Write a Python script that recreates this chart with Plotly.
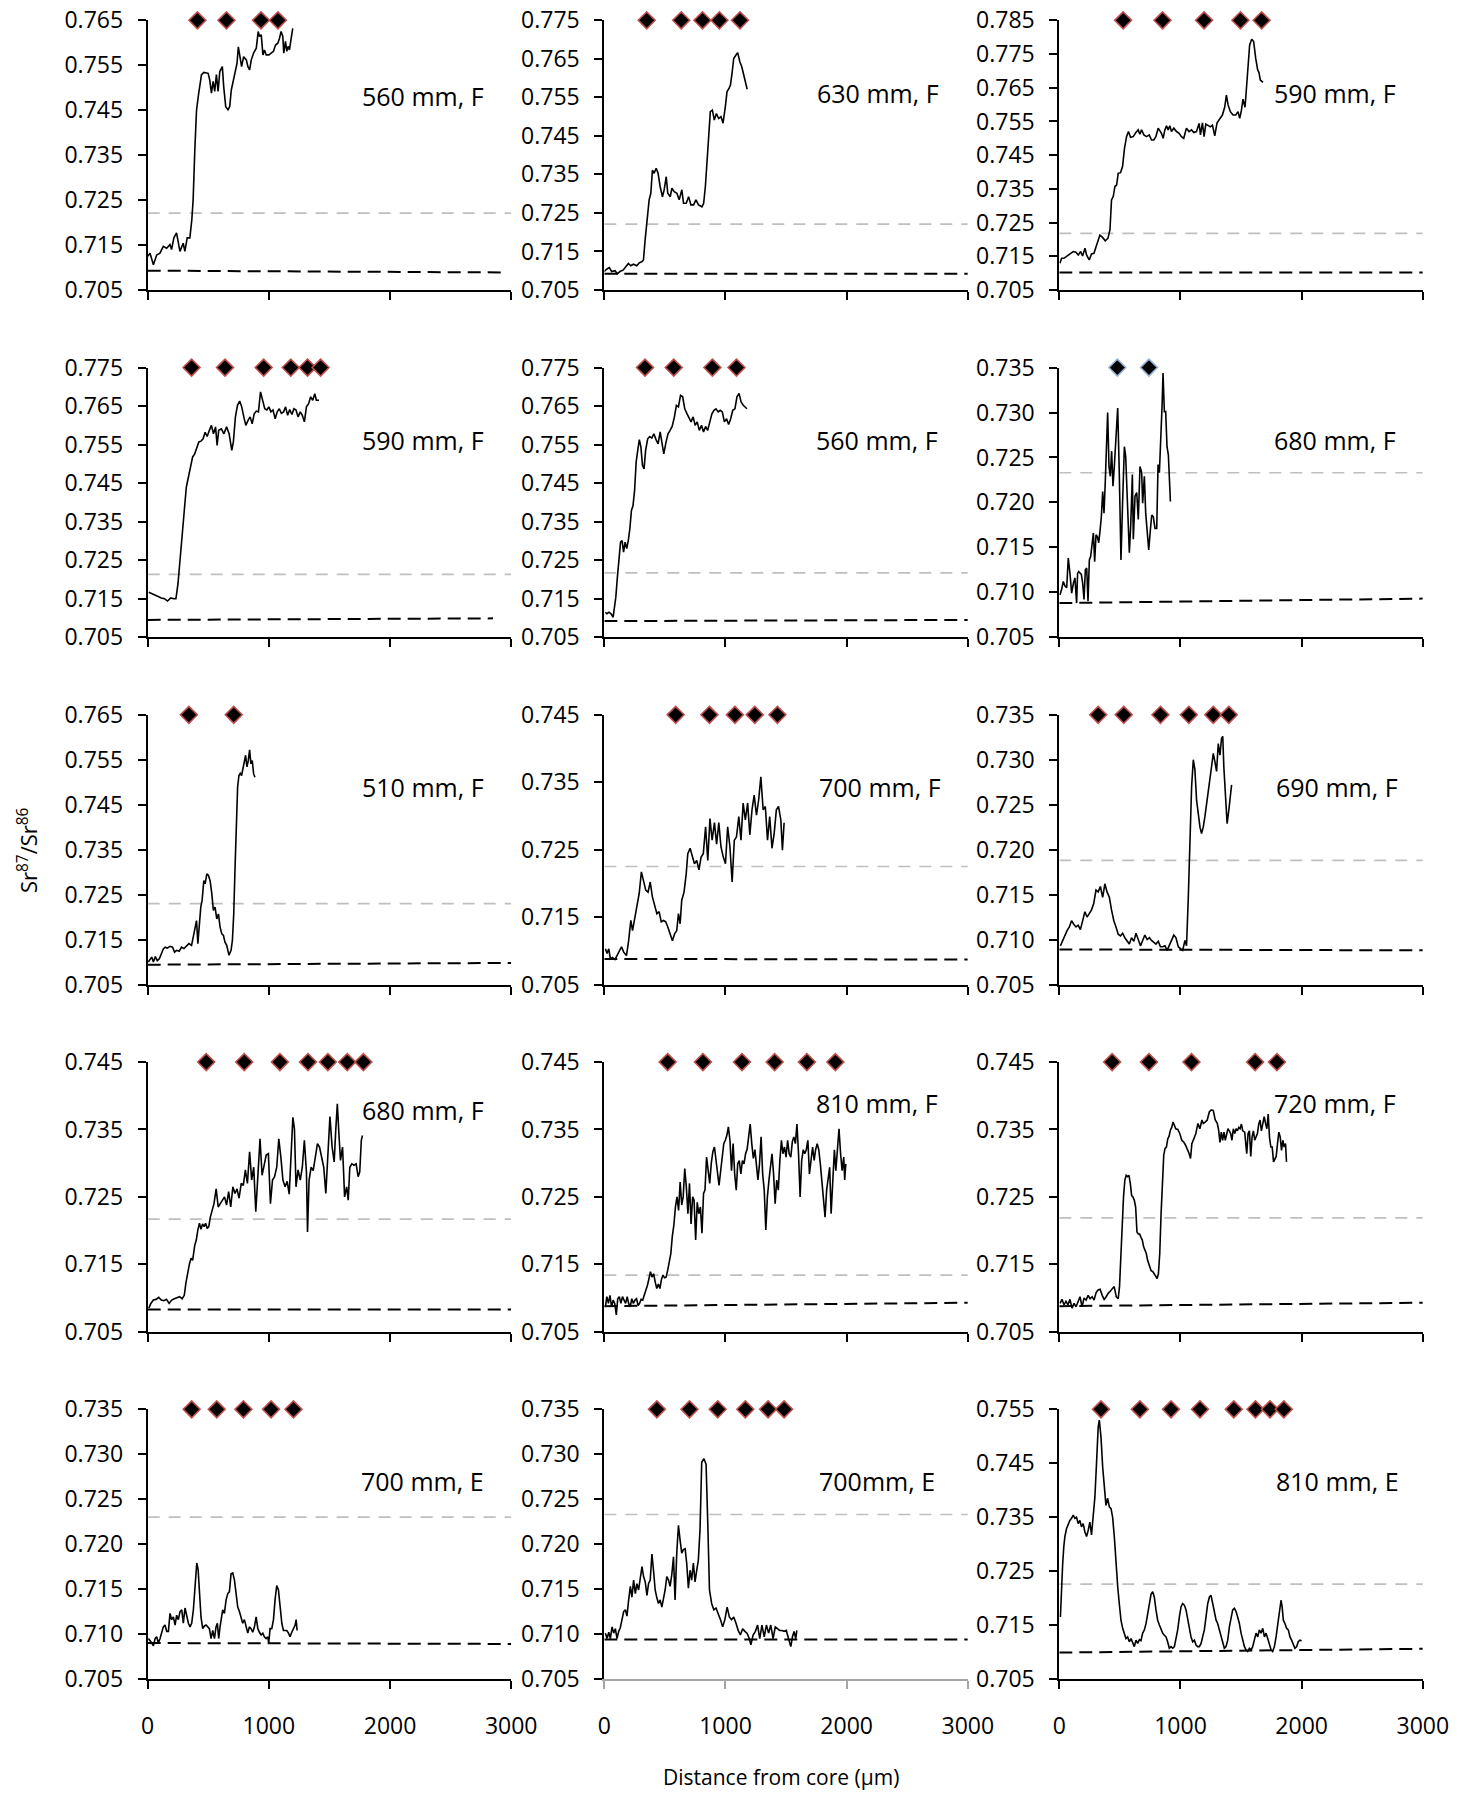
import plotly.graph_objects as go

# ---------------------------------------------------------------------------
# Sr87/Sr86 transects, distance from core (µm) vs ratio, one list per otolith
# ---------------------------------------------------------------------------

panel_labels = ["560 mm, F", "630 mm, F", "590 mm, F",
                "590 mm, F", "560 mm, F", "680 mm, F",
                "510 mm, F", "700 mm, F", "690 mm, F",
                "680 mm, F", "810 mm, F", "720 mm, F",
                "700 mm, E", "700mm, E", "810 mm, E"]

# (min, max, step) of each ratio axis
y_scales = [(0.705, 0.765, 0.01), (0.705, 0.775, 0.01), (0.705, 0.785, 0.01),
            (0.705, 0.775, 0.01), (0.705, 0.775, 0.01), (0.705, 0.735, 0.005),
            (0.705, 0.765, 0.01), (0.705, 0.745, 0.01), (0.705, 0.735, 0.005),
            (0.705, 0.745, 0.01), (0.705, 0.745, 0.01), (0.705, 0.745, 0.01),
            (0.705, 0.735, 0.005), (0.705, 0.735, 0.005), (0.705, 0.755, 0.01)]

x_ticks = [0, 1000, 2000, 3000]

transect_560F_a = [(0, .7125), (19, .7132), (47, .7106), (74, .7128), (101, .7132), (129, .7147), (156, .7143), (184, .7151), (197, .714), (216, .7166), (238, .7177), (266, .7136), (293, .7154), (307, .7136), (326, .7166), (348, .7166), (364, .7206), (375, .7251), (389, .7362), (403, .745), (419, .7484), (444, .7529), (463, .7534), (499, .7532), (512, .7517), (526, .7488), (540, .7514), (553, .7492), (567, .7529), (581, .7492), (595, .7536), (616, .7547), (627, .7503), (644, .7458), (663, .7451), (677, .7458), (690, .7495), (704, .7514), (721, .7529), (737, .7554), (748, .7591), (759, .7573), (775, .7547), (792, .7569), (814, .7562), (827, .7547), (841, .754), (855, .7562), (874, .7577), (896, .7588), (912, .7625), (923, .7614), (937, .7618), (951, .7573), (964, .7584), (978, .7573), (1000, .7573), (1019, .7577), (1038, .7581), (1055, .7595), (1074, .7599), (1088, .761), (1101, .7625), (1115, .7614), (1123, .7577), (1137, .7603), (1148, .7581), (1159, .7592), (1170, .7584), (1184, .761), (1197, .7632)]

transect_630F = [(0, .7098), (19, .7104), (41, .7108), (61, .7098), (88, .71), (108, .7092), (130, .7098), (157, .7102), (179, .7111), (199, .7119), (218, .7113), (240, .7117), (268, .7113), (290, .7121), (309, .7123), (323, .7128), (337, .718), (351, .7232), (370, .7284), (384, .7301), (397, .7361), (411, .7353), (428, .7366), (444, .7353), (461, .7318), (480, .7292), (494, .731), (511, .7344), (524, .7301), (544, .7292), (558, .7314), (577, .7305), (599, .7301), (618, .7284), (640, .731), (654, .7275), (676, .7275), (696, .7292), (715, .7271), (737, .7271), (756, .7284), (778, .7271), (806, .7266), (820, .7275), (834, .7318), (847, .7379), (861, .7457), (875, .7513), (892, .7517), (908, .7491), (925, .7508), (944, .7495), (963, .75), (980, .7483), (999, .7526), (1013, .7565), (1029, .7573), (1041, .7582), (1054, .7612), (1068, .7651), (1087, .766), (1101, .7666), (1118, .7643), (1134, .763), (1151, .7608), (1165, .7586), (1179, .7571)]

transect_590F_a = [(5, .7129), (19, .7144), (38, .7144), (60, .7149), (88, .7157), (115, .7164), (137, .7162), (157, .7154), (176, .7164), (192, .7151), (212, .7174), (225, .7154), (247, .7139), (266, .7157), (286, .7159), (302, .7177), (321, .7201), (335, .7213), (357, .7206), (379, .7196), (401, .7203), (418, .7228), (431, .7317), (445, .7327), (459, .7357), (473, .7361), (486, .7396), (505, .7398), (522, .7416), (538, .747), (555, .7505), (571, .752), (588, .7503), (610, .7505), (632, .7517), (651, .7525), (665, .7512), (679, .7525), (698, .751), (720, .7505), (742, .751), (761, .7495), (780, .7495), (797, .7505), (816, .753), (830, .7523), (843, .7515), (857, .75), (871, .7525), (885, .7537), (898, .7525), (912, .7537), (926, .752), (945, .753), (967, .752), (989, .7515), (1008, .7505), (1027, .75), (1049, .753), (1071, .752), (1091, .7525), (1110, .7517), (1132, .752), (1154, .7544), (1165, .751), (1181, .7546), (1195, .7505), (1209, .7542), (1228, .7539), (1247, .7534), (1264, .7539), (1283, .7507), (1302, .7546), (1324, .7559), (1346, .7569), (1365, .7592), (1379, .7628), (1393, .7599), (1412, .7579), (1434, .7569), (1456, .7569), (1475, .7579), (1489, .7559), (1503, .7583), (1516, .7616), (1533, .7592), (1549, .7663), (1560, .7727), (1571, .7777), (1588, .7794), (1604, .7787), (1621, .7737), (1637, .7703), (1648, .7695), (1659, .7673), (1681, .7666)]

transect_590F_b = [(9, .7167), (34, .7163), (60, .7158), (86, .7156), (112, .7152), (138, .715), (164, .7144), (190, .7152), (216, .715), (233, .715), (250, .7189), (267, .7258), (284, .7327), (302, .7379), (319, .744), (336, .7466), (353, .7487), (371, .7518), (388, .7526), (405, .7539), (422, .7557), (440, .7559), (457, .7565), (474, .7582), (491, .7571), (509, .7587), (526, .76), (543, .7578), (560, .7596), (573, .7548), (586, .7587), (608, .7591), (629, .7578), (651, .7596), (672, .7578), (694, .7535), (707, .7557), (724, .7622), (741, .7652), (759, .7663), (776, .7648), (793, .7622), (810, .76), (828, .7613), (845, .7622), (862, .7604), (879, .763), (897, .7637), (914, .7635), (931, .7687), (948, .7665), (966, .7643), (983, .764), (1000, .7648), (1017, .7635), (1034, .764), (1052, .7617), (1069, .7635), (1086, .7643), (1103, .7631), (1121, .7635), (1138, .7648), (1155, .7626), (1172, .7641), (1190, .7628), (1207, .7643), (1224, .764), (1241, .7622), (1259, .7635), (1276, .7626), (1293, .7609), (1310, .7648), (1328, .7656), (1345, .7674), (1362, .7665), (1379, .7682), (1392, .7665), (1414, .7665)]

transect_560F_b = [(9, .7115), (22, .7111), (39, .7115), (56, .7111), (73, .7102), (82, .7124), (95, .7154), (108, .7206), (121, .7258), (134, .7297), (147, .7301), (159, .7271), (172, .7297), (185, .728), (198, .7301), (211, .7332), (224, .7379), (237, .7392), (250, .7431), (263, .7505), (276, .7535), (289, .7563), (302, .7544), (315, .7496), (328, .7487), (341, .7535), (358, .7565), (375, .7571), (392, .7567), (409, .7578), (427, .7563), (444, .7552), (461, .7583), (478, .7552), (491, .7526), (509, .7556), (526, .7578), (543, .7587), (560, .7597), (578, .7621), (595, .7652), (612, .7648), (629, .7678), (647, .7674), (664, .7643), (681, .7631), (698, .7622), (716, .7609), (733, .7622), (750, .76), (767, .7609), (784, .7587), (802, .76), (819, .7583), (836, .7597), (853, .7587), (871, .7609), (888, .763), (905, .7639), (922, .7643), (940, .7635), (957, .7639), (974, .7635), (991, .7609), (1009, .7617), (1026, .7602), (1043, .7617), (1060, .7639), (1078, .7643), (1095, .7674), (1112, .7683), (1129, .7661), (1147, .7652), (1164, .7648), (1177, .7643)]

transect_680F_a = [(5, .7097), (19, .7103), (33, .7112), (47, .7107), (61, .7105), (74, .7138), (88, .7121), (102, .7099), (116, .711), (129, .7116), (143, .7088), (151, .7121), (160, .7123), (171, .7121), (182, .712), (193, .711), (204, .7092), (215, .7125), (226, .7127), (237, .709), (248, .7136), (259, .714), (270, .7153), (281, .7166), (292, .7134), (303, .7164), (314, .7162), (325, .7155), (336, .7168), (347, .7184), (358, .7212), (369, .7188), (380, .7225), (391, .727), (399, .73), (410, .724), (421, .7229), (432, .7257), (443, .7218), (454, .724), (465, .727), (482, .7305), (495, .7233), (509, .7136), (523, .7203), (537, .7262), (548, .7251), (562, .7196), (578, .7144), (589, .7173), (603, .7231), (611, .7159), (625, .7207), (639, .7211), (652, .7181), (666, .724), (680, .7233), (688, .7199), (702, .7229), (713, .7188), (727, .7166), (738, .7147), (752, .717), (763, .7186), (776, .7184), (790, .7171), (804, .7171), (815, .7242), (826, .7233), (837, .7262), (848, .7307), (856, .7344), (867, .7301), (878, .7301), (889, .7262), (900, .7253), (911, .7218), (917, .7201)]

transect_510F = [(5, .71), (19, .7107), (33, .7111), (47, .71), (63, .7112), (79, .7103), (96, .7107), (112, .7118), (129, .7129), (145, .7133), (162, .7131), (184, .7135), (205, .7133), (222, .7122), (238, .7126), (260, .7124), (279, .7133), (299, .713), (321, .7135), (340, .7141), (362, .7137), (375, .7155), (389, .7181), (403, .7192), (414, .7141), (425, .7181), (438, .7222), (449, .7237), (463, .7281), (474, .7274), (488, .7296), (501, .7293), (515, .7281), (529, .7252), (542, .7215), (556, .7222), (570, .7196), (584, .7207), (597, .7178), (611, .7163), (625, .7159), (638, .7144), (652, .7137), (671, .7115), (688, .7126), (699, .7148), (710, .7207), (721, .7311), (732, .7415), (742, .7489), (753, .7515), (764, .752), (775, .7515), (786, .753), (797, .7537), (808, .756), (819, .7534), (830, .7548), (841, .7572), (852, .7541), (863, .7548), (874, .7519), (885, .7511)]

transect_700F = [(9, .7103), (23, .7096), (37, .7103), (50, .7088), (68, .709), (87, .7087), (105, .7093), (123, .7099), (142, .7106), (160, .7098), (183, .7093), (201, .7115), (219, .7145), (233, .713), (251, .715), (269, .7167), (288, .7185), (306, .7217), (324, .7205), (342, .719), (361, .7187), (379, .7202), (397, .718), (416, .7167), (434, .7155), (452, .7158), (470, .7143), (489, .7145), (507, .7143), (525, .7135), (543, .7125), (562, .7115), (580, .7125), (598, .713), (612, .7155), (626, .714), (639, .7175), (658, .7187), (676, .7214), (689, .7244), (708, .7252), (726, .7239), (744, .7229), (763, .7234), (781, .722), (799, .7239), (817, .7244), (836, .7284), (854, .7234), (872, .7296), (890, .7264), (909, .729), (927, .7258), (945, .729), (963, .7254), (982, .7239), (1000, .7229), (1018, .7284), (1037, .7254), (1055, .7202), (1073, .7264), (1091, .7269), (1110, .7299), (1128, .7264), (1146, .7319), (1164, .7294), (1183, .7319), (1201, .7272), (1219, .7309), (1237, .7331), (1256, .7301), (1274, .7324), (1292, .7358), (1311, .7309), (1329, .7314), (1347, .7264), (1365, .7299), (1384, .7252), (1402, .7274), (1420, .7309), (1438, .7314), (1457, .7294), (1470, .7249), (1484, .729)]

transect_690F = [(9, .7093), (28, .7099), (46, .7106), (64, .711), (83, .7114), (101, .7121), (119, .7117), (138, .7114), (156, .7116), (174, .7111), (193, .7121), (211, .7131), (229, .7125), (248, .7129), (266, .7133), (284, .714), (303, .7155), (321, .7153), (339, .7159), (358, .7147), (376, .7162), (394, .7153), (413, .7147), (431, .7133), (450, .7121), (468, .7114), (486, .7106), (505, .7104), (523, .7107), (541, .7102), (560, .7099), (578, .7095), (596, .7102), (615, .7098), (633, .7107), (651, .7099), (670, .7093), (688, .7099), (706, .7105), (725, .71), (743, .7102), (761, .7099), (780, .7097), (798, .7095), (817, .7098), (835, .7092), (853, .7092), (872, .7093), (890, .7088), (908, .7093), (927, .7099), (945, .7105), (963, .7102), (982, .7092), (1000, .709), (1018, .7088), (1037, .7099), (1050, .7093), (1064, .7144), (1078, .7211), (1092, .727), (1106, .73), (1119, .7289), (1133, .7255), (1147, .724), (1161, .7225), (1174, .7218), (1188, .7225), (1202, .7237), (1216, .7251), (1229, .7259), (1243, .7276), (1257, .7291), (1271, .7307), (1284, .7298), (1298, .7287), (1312, .7318), (1326, .7305), (1339, .7324), (1349, .7326), (1358, .7292), (1372, .7255), (1385, .7229), (1399, .7244), (1413, .7263), (1422, .7272)]

transect_680F_b = [(9, .7085), (26, .7092), (47, .7097), (69, .7098), (91, .7101), (112, .7097), (134, .7096), (155, .7098), (177, .7092), (198, .7097), (220, .7099), (241, .7101), (263, .7102), (284, .7099), (302, .7104), (315, .7122), (328, .7136), (345, .7151), (358, .7159), (371, .7156), (388, .7178), (401, .7186), (414, .7201), (427, .7211), (440, .7202), (453, .721), (466, .7206), (478, .7211), (491, .7203), (504, .7206), (517, .722), (530, .7228), (547, .724), (565, .7262), (582, .7235), (599, .724), (616, .7245), (634, .725), (651, .7238), (668, .7258), (685, .7235), (703, .7265), (720, .7255), (737, .7262), (754, .7248), (772, .727), (789, .7267), (806, .729), (823, .727), (841, .7317), (858, .7275), (875, .7294), (892, .7228), (909, .7287), (927, .7336), (944, .7282), (961, .7299), (978, .7312), (996, .7314), (1013, .724), (1030, .7275), (1047, .728), (1065, .7294), (1082, .7336), (1099, .7309), (1116, .7275), (1134, .7265), (1151, .7273), (1168, .7254), (1185, .7312), (1198, .7368), (1211, .7351), (1224, .7265), (1241, .729), (1259, .7275), (1276, .7294), (1293, .7334), (1310, .7287), (1319, .7198), (1332, .7275), (1349, .7294), (1366, .7289), (1384, .7312), (1401, .7329), (1418, .7324), (1435, .731), (1453, .7294), (1470, .7255), (1487, .731), (1504, .7369), (1522, .7324), (1539, .7302), (1552, .7349), (1565, .7388), (1578, .7344), (1591, .7304), (1608, .7324), (1625, .725), (1642, .7265), (1655, .7245), (1668, .7294), (1685, .7299), (1703, .7297), (1720, .7299), (1737, .728), (1750, .7287), (1763, .7334), (1772, .7341)]

transect_810F = [(9, .7087), (21, .7102), (34, .7092), (47, .7104), (60, .7087), (73, .7097), (86, .7092), (99, .7075), (111, .7099), (124, .7102), (137, .7092), (150, .7102), (163, .7097), (176, .7092), (189, .7102), (201, .7092), (214, .7087), (227, .7099), (240, .7092), (253, .7097), (266, .7099), (279, .7089), (291, .7092), (304, .7098), (317, .7097), (330, .7104), (343, .7114), (356, .7119), (369, .7129), (381, .7139), (394, .7131), (407, .7136), (420, .7124), (433, .7114), (446, .7121), (459, .7114), (471, .7127), (484, .7134), (497, .713), (510, .7131), (523, .7141), (536, .7154), (549, .7166), (561, .7191), (574, .7208), (587, .7235), (600, .725), (613, .723), (626, .7272), (639, .7238), (651, .725), (664, .7292), (677, .7265), (690, .7225), (703, .727), (716, .721), (729, .725), (741, .7245), (754, .7186), (767, .7242), (780, .7225), (793, .7235), (806, .7196), (819, .7255), (831, .726), (844, .7309), (857, .7284), (870, .727), (883, .73), (896, .7317), (909, .7324), (922, .7304), (934, .7294), (947, .7267), (960, .7288), (973, .7314), (986, .7329), (999, .7334), (1011, .7341), (1024, .7354), (1037, .7334), (1050, .7289), (1063, .7329), (1076, .7284), (1089, .726), (1101, .7299), (1114, .7304), (1127, .7284), (1140, .7304), (1153, .7299), (1166, .7314), (1179, .7321), (1191, .7339), (1204, .7358), (1217, .7329), (1230, .7307), (1243, .732), (1256, .7294), (1268, .7275), (1281, .7299), (1294, .7339), (1307, .7284), (1320, .726), (1333, .7201), (1346, .725), (1359, .7275), (1372, .7294), (1384, .7314), (1397, .7284), (1410, .724), (1423, .7275), (1436, .726), (1449, .7304), (1462, .7334), (1474, .7314), (1487, .7324), (1500, .7309), (1513, .7334), (1526, .7314), (1539, .7309), (1552, .7332), (1564, .7339), (1577, .7329), (1590, .7358), (1603, .7314), (1616, .725), (1629, .7304), (1642, .732), (1654, .7314), (1667, .732), (1680, .7334), (1693, .7284), (1706, .7304), (1719, .7324), (1732, .7304), (1744, .732), (1757, .7329), (1770, .732), (1783, .7299), (1796, .7275), (1809, .725), (1822, .722), (1835, .726), (1849, .7284), (1860, .7294), (1872, .7225), (1886, .7284), (1899, .732), (1911, .7289), (1924, .732), (1937, .7351), (1950, .7314), (1963, .7289), (1976, .7309), (1984, .7275), (1993, .7299)]

transect_720F = [(6, .7092), (22, .7098), (39, .709), (55, .7095), (72, .709), (88, .7098), (105, .7085), (122, .7092), (138, .7087), (155, .7095), (171, .7102), (188, .7087), (204, .71), (221, .7097), (238, .7104), (254, .7099), (271, .7102), (287, .7097), (304, .7108), (320, .7112), (337, .7113), (354, .7104), (370, .7098), (387, .7102), (403, .7107), (420, .711), (436, .7114), (453, .7117), (470, .7102), (486, .7099), (497, .7117), (508, .7166), (519, .7206), (530, .725), (541, .7275), (552, .7282), (563, .728), (575, .7282), (586, .727), (597, .7252), (608, .725), (619, .7245), (630, .7235), (641, .7198), (652, .7195), (663, .7195), (674, .719), (685, .7186), (696, .7176), (707, .7171), (718, .7166), (729, .7156), (740, .7149), (757, .7141), (773, .7139), (790, .7134), (807, .7129), (818, .7136), (829, .7166), (840, .7225), (851, .7275), (862, .7312), (873, .7322), (884, .7324), (895, .7336), (906, .734), (917, .7349), (928, .7353), (939, .7361), (950, .7356), (961, .7351), (978, .735), (994, .7344), (1011, .7334), (1028, .7331), (1044, .7326), (1061, .7319), (1072, .7314), (1083, .7307), (1094, .7329), (1110, .7336), (1127, .7344), (1144, .7359), (1160, .7351), (1177, .7364), (1188, .7359), (1204, .7361), (1221, .7364), (1238, .7376), (1254, .7379), (1271, .7378), (1287, .7364), (1304, .7359), (1315, .7349), (1326, .7331), (1337, .7346), (1348, .7334), (1359, .7346), (1370, .7334), (1381, .7341), (1392, .7351), (1403, .7348), (1414, .7344), (1425, .7334), (1436, .7351), (1448, .7344), (1459, .7351), (1470, .7348), (1481, .7353), (1492, .7351), (1503, .7358), (1514, .7348), (1530, .7346), (1547, .7314), (1558, .7344), (1569, .7348), (1580, .731), (1591, .7339), (1602, .7348), (1613, .7334), (1624, .7341), (1635, .7344), (1646, .7358), (1657, .7364), (1668, .7348), (1680, .7361), (1691, .7369), (1702, .7359), (1713, .7351), (1724, .7373), (1735, .7338), (1746, .7324), (1757, .7324), (1768, .7302), (1779, .7307), (1790, .731), (1801, .7329), (1812, .7346), (1823, .7339), (1834, .7319), (1845, .7334), (1856, .7324), (1867, .7329), (1875, .7302)]

transect_700E_a = [(6, .7095), (19, .7093), (33, .709), (47, .7087), (61, .7095), (74, .7097), (88, .709), (102, .7095), (116, .7101), (129, .7108), (143, .711), (157, .7103), (171, .7103), (184, .7123), (198, .7116), (212, .7119), (226, .711), (239, .7121), (253, .7116), (267, .7125), (281, .7127), (294, .7112), (308, .7129), (322, .7119), (336, .7112), (349, .7108), (363, .7112), (377, .7127), (391, .7153), (405, .7179), (416, .7172), (427, .7145), (440, .7119), (454, .7106), (468, .7109), (482, .711), (496, .7108), (509, .7106), (523, .7095), (537, .7104), (551, .7095), (564, .7108), (575, .7112), (586, .7095), (597, .7108), (608, .7116), (619, .7127), (633, .7123), (647, .7138), (661, .7145), (674, .7147), (688, .7167), (702, .7168), (716, .716), (729, .7145), (743, .713), (757, .7125), (771, .7119), (784, .7112), (798, .7116), (812, .7108), (826, .7101), (839, .7108), (853, .7106), (867, .7102), (881, .7108), (895, .7119), (909, .7106), (922, .7102), (936, .7099), (950, .7101), (963, .7097), (977, .7095), (991, .7097), (999, .709), (1010, .7106), (1024, .7106), (1038, .7116), (1051, .7138), (1065, .7154), (1079, .7149), (1093, .713), (1107, .7112), (1120, .7104), (1134, .7104), (1148, .7104), (1162, .7101), (1175, .7097), (1189, .7102), (1203, .7106), (1217, .711), (1225, .7116), (1233, .7104)]

transect_700E_b = [(9, .7101), (23, .7095), (37, .7102), (50, .7095), (64, .7108), (78, .7101), (91, .7106), (105, .7095), (119, .7103), (132, .7107), (146, .7116), (160, .7125), (174, .7127), (187, .712), (201, .7138), (215, .7153), (228, .7141), (242, .716), (256, .7145), (269, .7156), (283, .7149), (297, .7164), (311, .7175), (324, .7164), (338, .7158), (352, .7143), (365, .7156), (379, .716), (393, .7189), (406, .7171), (420, .7149), (434, .714), (447, .7134), (461, .7138), (475, .713), (489, .714), (502, .7149), (516, .7164), (530, .716), (543, .7153), (557, .7166), (571, .7186), (584, .7138), (598, .719), (612, .7221), (626, .7204), (639, .719), (653, .7194), (667, .7195), (680, .7179), (694, .7151), (708, .7171), (721, .716), (735, .7179), (749, .7158), (763, .7171), (776, .7182), (790, .7216), (804, .7291), (822, .7295), (840, .7289), (854, .7223), (868, .7149), (886, .7134), (904, .7127), (922, .7129), (941, .7123), (959, .7116), (977, .7108), (995, .7116), (1014, .713), (1032, .7119), (1050, .7116), (1068, .7119), (1087, .7112), (1105, .7104), (1123, .7099), (1142, .7106), (1160, .7103), (1178, .7101), (1196, .7095), (1210, .7088), (1228, .7099), (1247, .7103), (1265, .711), (1283, .7095), (1301, .711), (1320, .7097), (1338, .711), (1356, .7101), (1374, .711), (1393, .7095), (1411, .7108), (1429, .7106), (1447, .7104), (1466, .7104), (1484, .7103), (1502, .7104), (1521, .7095), (1539, .7086), (1553, .7097), (1566, .7103), (1580, .7095), (1589, .7104)]

transect_810E = [(9, .7165), (18, .7221), (28, .7264), (37, .7295), (46, .7314), (60, .7329), (73, .7338), (87, .7344), (101, .7348), (115, .7354), (128, .7348), (142, .735), (156, .7338), (170, .7344), (183, .7332), (197, .7338), (211, .7323), (225, .7314), (239, .7326), (252, .7341), (266, .7317), (280, .735), (294, .7388), (307, .7449), (321, .7517), (330, .753), (344, .7499), (358, .7443), (372, .74), (385, .7372), (399, .7385), (413, .7369), (427, .7366), (440, .735), (454, .7314), (468, .7264), (482, .7221), (495, .719), (509, .7159), (523, .7144), (537, .7135), (550, .7125), (564, .7128), (578, .7119), (592, .7125), (606, .7116), (619, .711), (633, .7122), (647, .7116), (661, .7123), (674, .7121), (688, .7135), (702, .7141), (716, .7153), (729, .7172), (743, .719), (757, .7207), (771, .7212), (784, .7202), (798, .7178), (812, .7159), (826, .715), (839, .7141), (853, .7135), (867, .7131), (881, .7128), (894, .7119), (908, .7107), (922, .711), (936, .7107), (950, .711), (963, .7125), (977, .7141), (991, .7165), (1005, .7184), (1018, .719), (1032, .7187), (1046, .7178), (1060, .7159), (1073, .7141), (1087, .7128), (1101, .7119), (1115, .7122), (1128, .7113), (1142, .711), (1156, .711), (1170, .7116), (1183, .7128), (1197, .7141), (1211, .7165), (1225, .719), (1239, .7202), (1252, .7205), (1266, .719), (1280, .7172), (1294, .7159), (1307, .7153), (1321, .7141), (1335, .7128), (1349, .7116), (1362, .7107), (1376, .711), (1390, .7122), (1404, .7147), (1417, .7165), (1431, .7178), (1445, .7181), (1459, .7175), (1472, .7165), (1486, .7153), (1500, .7135), (1514, .7122), (1528, .711), (1541, .7104), (1555, .7101), (1569, .7107), (1583, .7104), (1596, .711), (1610, .7122), (1624, .7135), (1638, .7128), (1651, .7141), (1665, .7135), (1679, .7144), (1693, .7128), (1706, .7135), (1720, .7125), (1734, .7116), (1748, .7104), (1761, .7101), (1775, .711), (1789, .7128), (1803, .7153), (1817, .7178), (1830, .7196), (1839, .7184), (1849, .7159), (1862, .7153), (1876, .7144), (1890, .7141), (1904, .7128), (1917, .7122), (1931, .7113), (1945, .7107), (1959, .711), (1972, .7119), (1986, .7122), (2000, .7121)]

transects = [transect_560F_a, transect_630F, transect_590F_a,
             transect_590F_b, transect_560F_b, transect_680F_a,
             transect_510F, transect_700F, transect_690F,
             transect_680F_b, transect_810F, transect_720F,
             transect_700E_a, transect_700E_b, transect_810E]

# distances (µm) of the annual marks shown along the top of each panel
annual_marks = [[410, 650, 935, 1075],
                [350, 635, 810, 950, 1120],
                [527, 852, 1195, 1495, 1670],
                [362, 638, 957, 1181, 1319, 1427],
                [336, 573, 892, 1091],
                [479, 740],
                [340, 710],
                [589, 868, 1078, 1242, 1429],
                [321, 532, 835, 1069, 1271, 1399],
                [483, 797, 1091, 1323, 1487, 1647, 1780],
                [523, 814, 1136, 1406, 1672, 1907],
                [436, 740, 1091, 1616, 1796],
                [363, 570, 790, 1018, 1203],
                [434, 703, 936, 1164, 1352, 1484],
                [344, 665, 922, 1161, 1440, 1619, 1739, 1853]]

# freshwater baseline: ratio at start, ratio at end, end distance
baseline_fresh = [(0.7093, 0.7089, 2970), (0.7092, 0.7092, 3000), (0.7102, 0.7102, 3000),
                  (0.7095, 0.7099, 2850), (0.7092, 0.7095, 3000), (0.7088, 0.7093, 3000),
                  (0.7094, 0.7098, 3000), (0.7088, 0.7087, 3000), (0.7089, 0.7088, 3000),
                  (0.7083, 0.7083, 3000), (0.7088, 0.7093, 3000), (0.7088, 0.7093, 3000),
                  (0.7090, 0.7089, 3000), (0.7094, 0.7094, 3000), (0.7099, 0.7106, 3000)]

# threshold ratio (grey dashed)
threshold_ratio = [0.7221, 0.7221, 0.7218, 0.7213, 0.7217, 0.7233, 0.7230, 0.7225,
                   0.7188, 0.7217, 0.7134, 0.7219, 0.7230, 0.7233, 0.7226]

# ---------------------------------------------------------------------------
# layout (pixel geometry of the 5 x 3 grid)
# ---------------------------------------------------------------------------
W, H = 1464, 1794
col_left = [147.7, 604.3, 1059.3]
col_width = 363.5
row_top = [20.3 + 347.25 * r for r in range(5)]
row_height = 269.7

# label offsets from each panel's top-left corner
label_offset = [(275, 76), (274, 73), (276, 73),
                (275, 72), (273, 72), (276, 72),
                (275, 72), (276, 72), (278, 72),
                (275, 48), (273, 41), (276, 41),
                (275, 72), (273, 72), (278, 72)]

FONT = "Open Sans"
TICK_SIZE = 23
LABEL_SIZE = 25
RED_EDGE = "#C0504D"
BLUE_EDGE = "#95B3D7"
GREY = "#BFBFBF"

fig = go.Figure()
annotations = []
layout = dict(width=W, height=H,
              margin=dict(l=0, r=0, t=0, b=0, pad=0, autoexpand=False),
              autosize=False, showlegend=False,
              paper_bgcolor="white", plot_bgcolor="white",
              font=dict(family=FONT, color="black"))

for i in range(15):
    r, c = divmod(i, 3)
    n = i + 1
    xa = "xaxis" if n == 1 else f"xaxis{n}"
    ya = "yaxis" if n == 1 else f"yaxis{n}"
    xr = "x" if n == 1 else f"x{n}"
    yr = "y" if n == 1 else f"y{n}"

    x0, x1 = col_left[c], col_left[c] + col_width
    y0, y1 = row_top[r], row_top[r] + row_height
    ymin, ymax, ystep = y_scales[i]

    x_line = "#A6A6A6" if i == 13 else "black"
    layout[xa] = dict(domain=[x0 / W, x1 / W], anchor=yr, range=[0, 3000],
                      tickvals=x_ticks, ticktext=[str(v) for v in x_ticks],
                      showticklabels=(r == 4), showgrid=False, zeroline=False,
                      showline=True, linecolor=x_line, linewidth=2,
                      ticks="outside", ticklen=8, tickwidth=2, tickcolor=x_line,
                      tickfont=dict(family=FONT, size=TICK_SIZE, color="black"),
                      ticklabelstandoff=17, automargin=False, fixedrange=True)
    nt = int(round((ymax - ymin) / ystep))
    yt = [round(ymin + k * ystep, 3) for k in range(nt + 1)]
    layout[ya] = dict(domain=[1 - y1 / H, 1 - y0 / H], anchor=xr, range=[ymin, ymax],
                      tickvals=yt, ticktext=[f"{v:.3f}" for v in yt],
                      showgrid=False, zeroline=False,
                      showline=True, linecolor="black", linewidth=2,
                      ticks="outside", ticklen=8, tickwidth=2, tickcolor="black",
                      tickfont=dict(family=FONT, size=TICK_SIZE, color="black"),
                      ticklabelstandoff=10, automargin=False, fixedrange=True)

    # threshold line (grey dashed)
    fig.add_trace(go.Scatter(x=[0, 3000], y=[threshold_ratio[i]] * 2, xaxis=xr, yaxis=yr,
                             mode="lines", hoverinfo="skip",
                             line=dict(color=GREY, width=1.7, dash="12px,9px")))
    # freshwater baseline (black dashed)
    b0, b1, bx = baseline_fresh[i]
    fig.add_trace(go.Scatter(x=[0, bx], y=[b0, b1], xaxis=xr, yaxis=yr,
                             mode="lines", hoverinfo="skip",
                             line=dict(color="black", width=2, dash="13px,7px")))
    # transect
    tx, ty = zip(*transects[i])
    fig.add_trace(go.Scatter(x=list(tx), y=list(ty), xaxis=xr, yaxis=yr,
                             mode="lines", line=dict(color="black", width=1.6)))
    # annual marks along the top
    marks = annual_marks[i]
    fig.add_trace(go.Scatter(x=marks, y=[ymax] * len(marks), xaxis=xr, yaxis=yr,
                             mode="markers", cliponaxis=False,
                             marker=dict(symbol="diamond", size=13, color="black",
                                         line=dict(color=BLUE_EDGE if i == 5 else RED_EDGE,
                                                   width=1.6))))

    dx, dy = label_offset[i]
    annotations.append(dict(text=panel_labels[i], xref="paper", yref="paper",
                            x=(x0 + dx) / W, y=1 - (y0 + dy) / H,
                            xanchor="center", yanchor="middle", showarrow=False,
                            font=dict(family=FONT, size=LABEL_SIZE, color="black")))

annotations.append(dict(text="Distance from core (µm)", xref="paper", yref="paper",
                        x=781 / W, y=1 - 1777 / H, xanchor="center", yanchor="middle",
                        showarrow=False, font=dict(family=FONT, size=21, color="black")))
annotations.append(dict(text="Sr<sup>87</sup>/Sr<sup>86</sup>", xref="paper", yref="paper",
                        x=27 / W, y=1 - 850 / H, xanchor="center", yanchor="middle",
                        textangle=-90, showarrow=False,
                        font=dict(family=FONT, size=22, color="black")))
layout["annotations"] = annotations

fig.update_layout(**layout)
fig.write_html("out.html")
